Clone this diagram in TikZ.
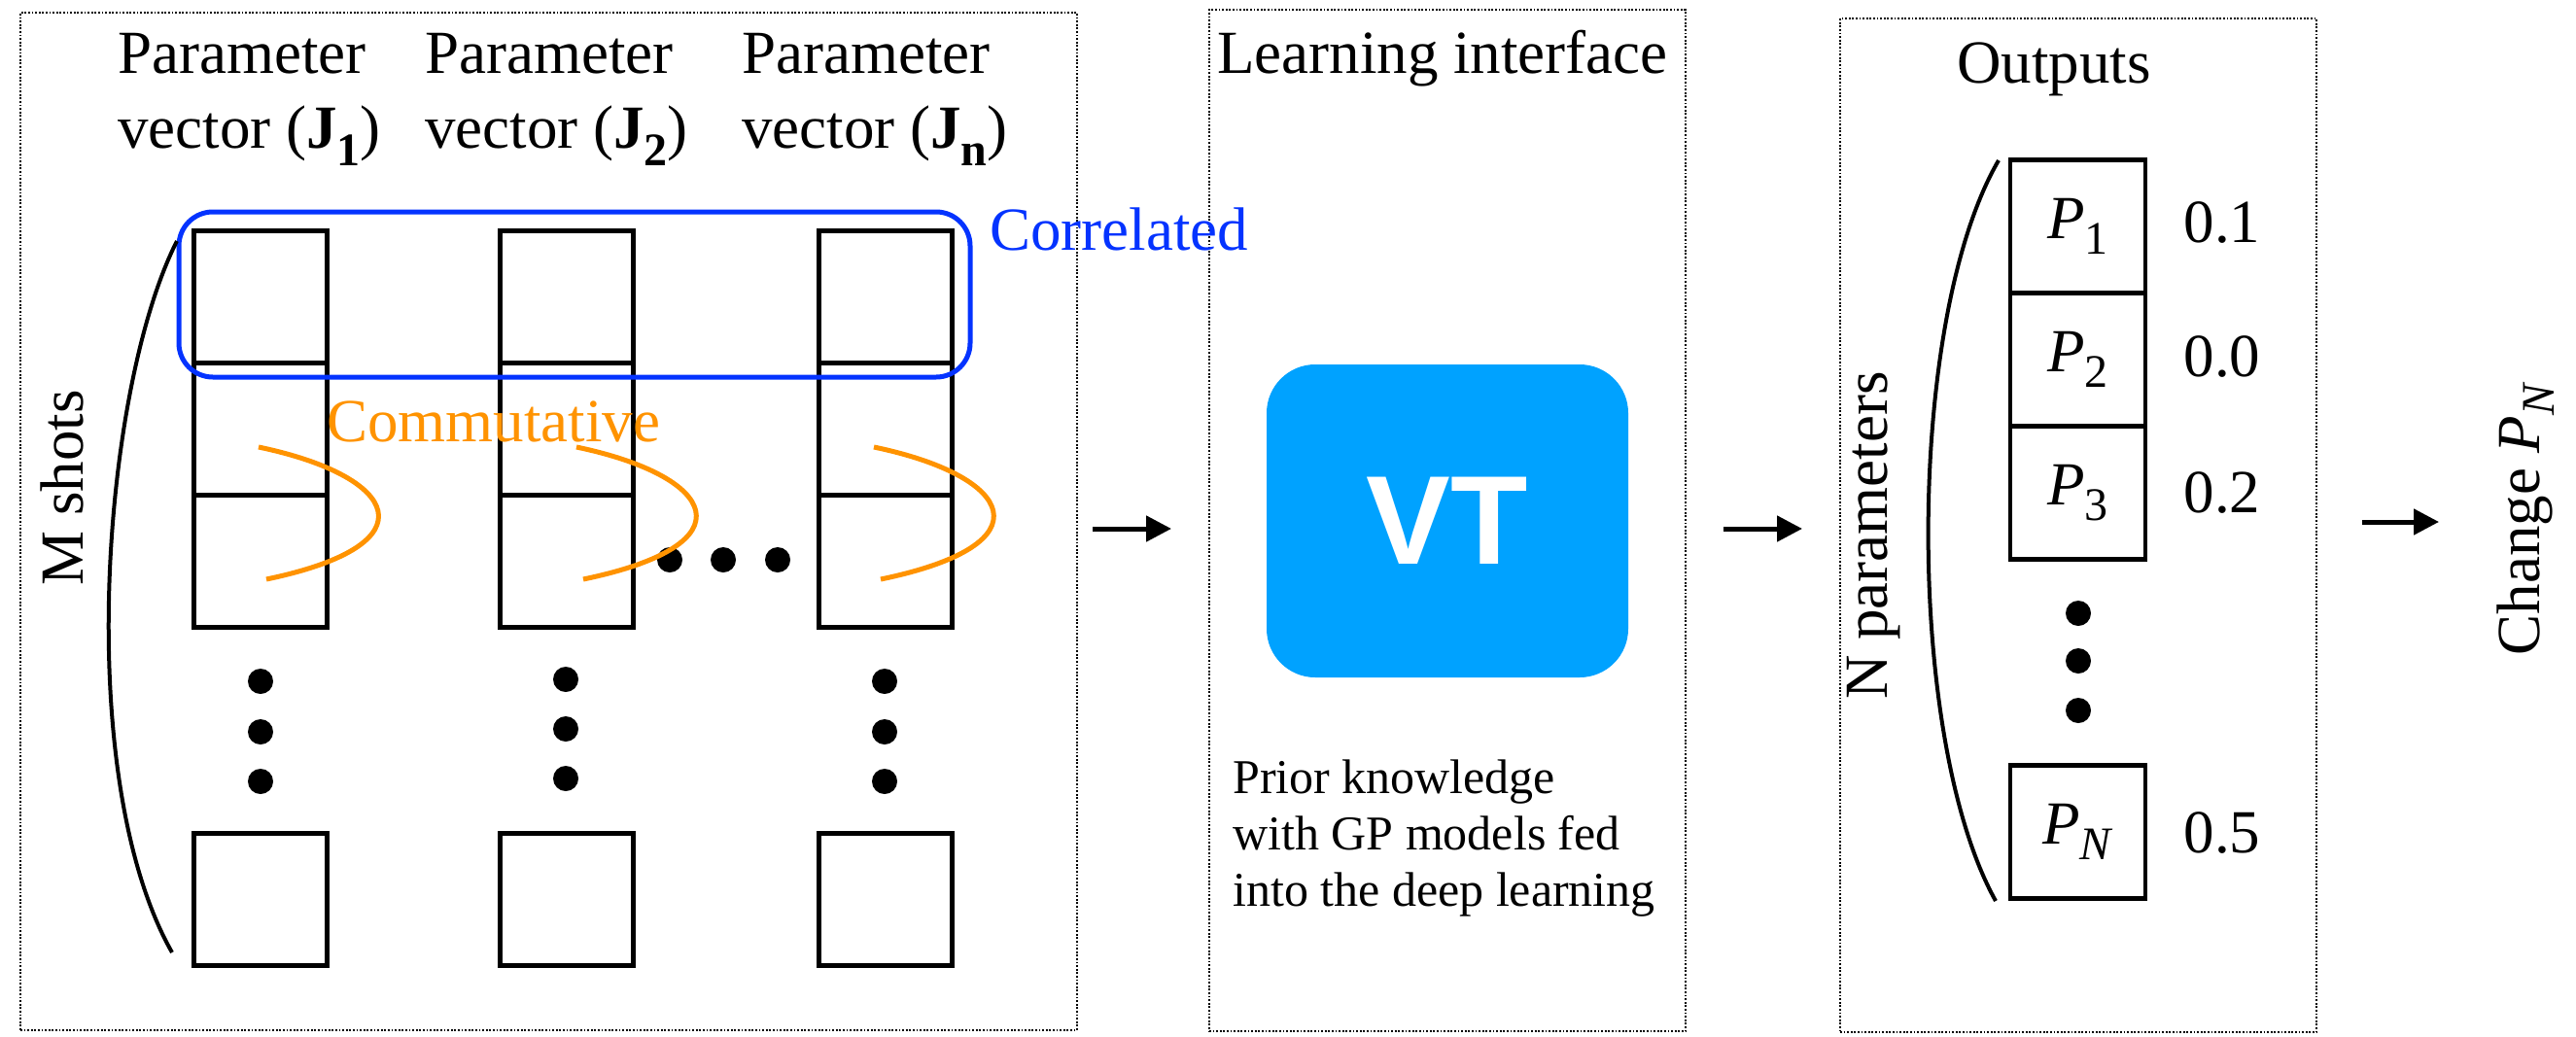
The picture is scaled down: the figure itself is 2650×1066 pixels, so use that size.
\documentclass[tikz,border=0pt]{standalone}
\usepackage{fontspec}
\setmainfont{Liberation Serif}
\newfontfamily\vtfont{Liberation Sans}
\usetikzlibrary{arrows.meta}
\definecolor{corrblue}{HTML}{0433FF}
\definecolor{commorange}{HTML}{FF9300}
\definecolor{vtblue}{HTML}{00A2FF}
\newcommand\jsub[1]{\textbf{J}\raisebox{-0.3em}{\fontsize{48}{48}\selectfont\bfseries #1}}
\newcommand\psub[1]{\textit{P}\raisebox{-0.25em}{\fontsize{48}{48}\selectfont #1}}
\begin{document}
\begin{tikzpicture}[x=1pt,y=-1pt,
 panel/.style={draw, line width=1.8pt, dash pattern=on 1.8pt off 1.8pt, inner sep=0pt},
 cell/.style={draw, line width=5pt, minimum width=137pt, minimum height=136pt, inner sep=0pt},
 pcell/.style={draw, line width=4.5pt, minimum width=139pt, minimum height=137pt, inner sep=0pt, font=\fontsize{63}{63}\selectfont},
 bigdot/.style={circle, fill=black, minimum size=26pt, inner sep=0pt},
 lbl/.style={font=\fontsize{63}{63}\selectfont, inner sep=0pt},
 small/.style={font=\fontsize{50}{50}\selectfont, inner sep=0pt, anchor=base west},
 flow/.style={line width=5pt, -{Triangle[length=26pt,width=26pt]}},
 bracket/.style={line width=4pt},
 comm/.style={line width=5pt, draw=commorange},
]
\fill[white] (0,0) rectangle (2650,1066);
\useasboundingbox (0,0) rectangle (2650,1066);

% panels
\node[panel, minimum width=1087pt, minimum height=1047pt] (leftpanel) at (564.5,536.5) {};
\node[panel, minimum width=490pt, minimum height=1051pt] (midpanel) at (1489,535.5) {};
\node[panel, minimum width=490pt, minimum height=1043pt] (rightpanel) at (2138,540.5) {};

% column headers
\node[lbl, anchor=base west] (h1a) at (121,75) {Parameter};
\node[lbl, anchor=base west] (h1b) at (121,152) {vector (\jsub{1})};
\node[lbl, anchor=base west] (h2a) at (437,75) {Parameter};
\node[lbl, anchor=base west] (h2b) at (437,152) {vector (\jsub{2})};
\node[lbl, anchor=base west] (h3a) at (763,75) {Parameter};
\node[lbl, anchor=base west] (h3b) at (763,152) {vector (\jsub{n})};

% columns of cells
\foreach \i/\x in {1/267.5, 2/582.5, 3/911} {
  \node[cell] (c\i a) at (\x,305) {};
  \node[cell] (c\i b) at (\x,441) {};
  \node[cell] (c\i c) at (\x,577) {};
  \node[cell] (c\i d) at (\x,925) {};
}
% vertical dots
\node[bigdot] (v1a) at (268,701) {};
\node[bigdot] (v1b) at (268,753) {};
\node[bigdot] (v1c) at (268,804) {};
\node[bigdot] (v2a) at (582,699) {};
\node[bigdot] (v2b) at (582,750) {};
\node[bigdot] (v2c) at (582,801) {};
\node[bigdot] (v3a) at (910,701) {};
\node[bigdot] (v3b) at (910,753) {};
\node[bigdot] (v3c) at (910,804) {};
% horizontal dots
\node[bigdot] (hd1) at (689,576) {};
\node[bigdot] (hd2) at (744,576) {};
\node[bigdot] (hd3) at (800,576) {};

% correlated
\draw[corrblue, line width=5pt, rounded corners=35pt] (184,218) rectangle (998,388);
\node[lbl, anchor=base west, text=corrblue] (corr) at (1018,257) {Correlated};

% commutative
\draw[comm] (266,460) .. controls (410,490) and (447,560) .. (274,596);
\draw[comm] (593,460) .. controls (737,490) and (774,560) .. (600,596);
\draw[comm] (899,460) .. controls (1043,490) and (1080,560) .. (906,596);
\node[lbl, anchor=base west, text=commorange] (commut) at (336,454) {Commutative};

% M shots
\draw[bracket] (182,248) .. controls (105,400) and (75,800) .. (177,980);
\node[lbl, rotate=90] (mshots) at (64,502) {M shots};

% middle panel
\node[lbl, anchor=base west] (learn) at (1252,75) {Learning interface};
\node[fill=vtblue, rounded corners=50pt, minimum width=372pt, minimum height=322pt, inner sep=0pt,
      text=white, font=\vtfont\bfseries\fontsize{130}{130}\selectfont] (vt) at (1489,536) {VT};
\node[small] (pk1) at (1268,816) {Prior knowledge};
\node[small] (pk2) at (1268,874) {with GP models fed};
\node[small] (pk3) at (1268,932) {into the deep learning};

% right panel
\node[lbl, anchor=base west] (outs) at (2013,85) {Outputs};
\node[pcell] (p1) at (2137.5,233) {\psub{1}};
\node[pcell] (p2) at (2137.5,370) {\psub{2}};
\node[pcell] (p3) at (2137.5,507) {\psub{3}};
\node[pcell] (pn) at (2137.5,856) {\psub{\textit{N}}};
\node[lbl] (val1) at (2286,229) {0.1};
\node[lbl] (val2) at (2286,367) {0.0};
\node[lbl] (val3) at (2286,507) {0.2};
\node[lbl] (valn) at (2286,857) {0.5};
\node[bigdot] (rd1) at (2138,631) {};
\node[bigdot] (rd2) at (2138,680) {};
\node[bigdot] (rd3) at (2138,731) {};
\draw[bracket] (2056,165) .. controls (1960,330) and (1960,760) .. (2053,927);
\node[lbl, rotate=90] (npar) at (1928,551) {N parameters};

% change
\node[lbl, rotate=90] (change) at (2598,534) {Change \psub{\textit{N}}};

% arrows
\coordinate (a1s) at (1124,544);
\coordinate (a1e) at (1205,544);
\coordinate (a2s) at (1773,544);
\coordinate (a2e) at (1854,544);
\coordinate (a3s) at (2430,537);
\coordinate (a3e) at (2509,537);
\draw[flow] (a1s) -- (a1e);
\draw[flow] (a2s) -- (a2e);
\draw[flow] (a3s) -- (a3e);
\end{tikzpicture}
\end{document}
